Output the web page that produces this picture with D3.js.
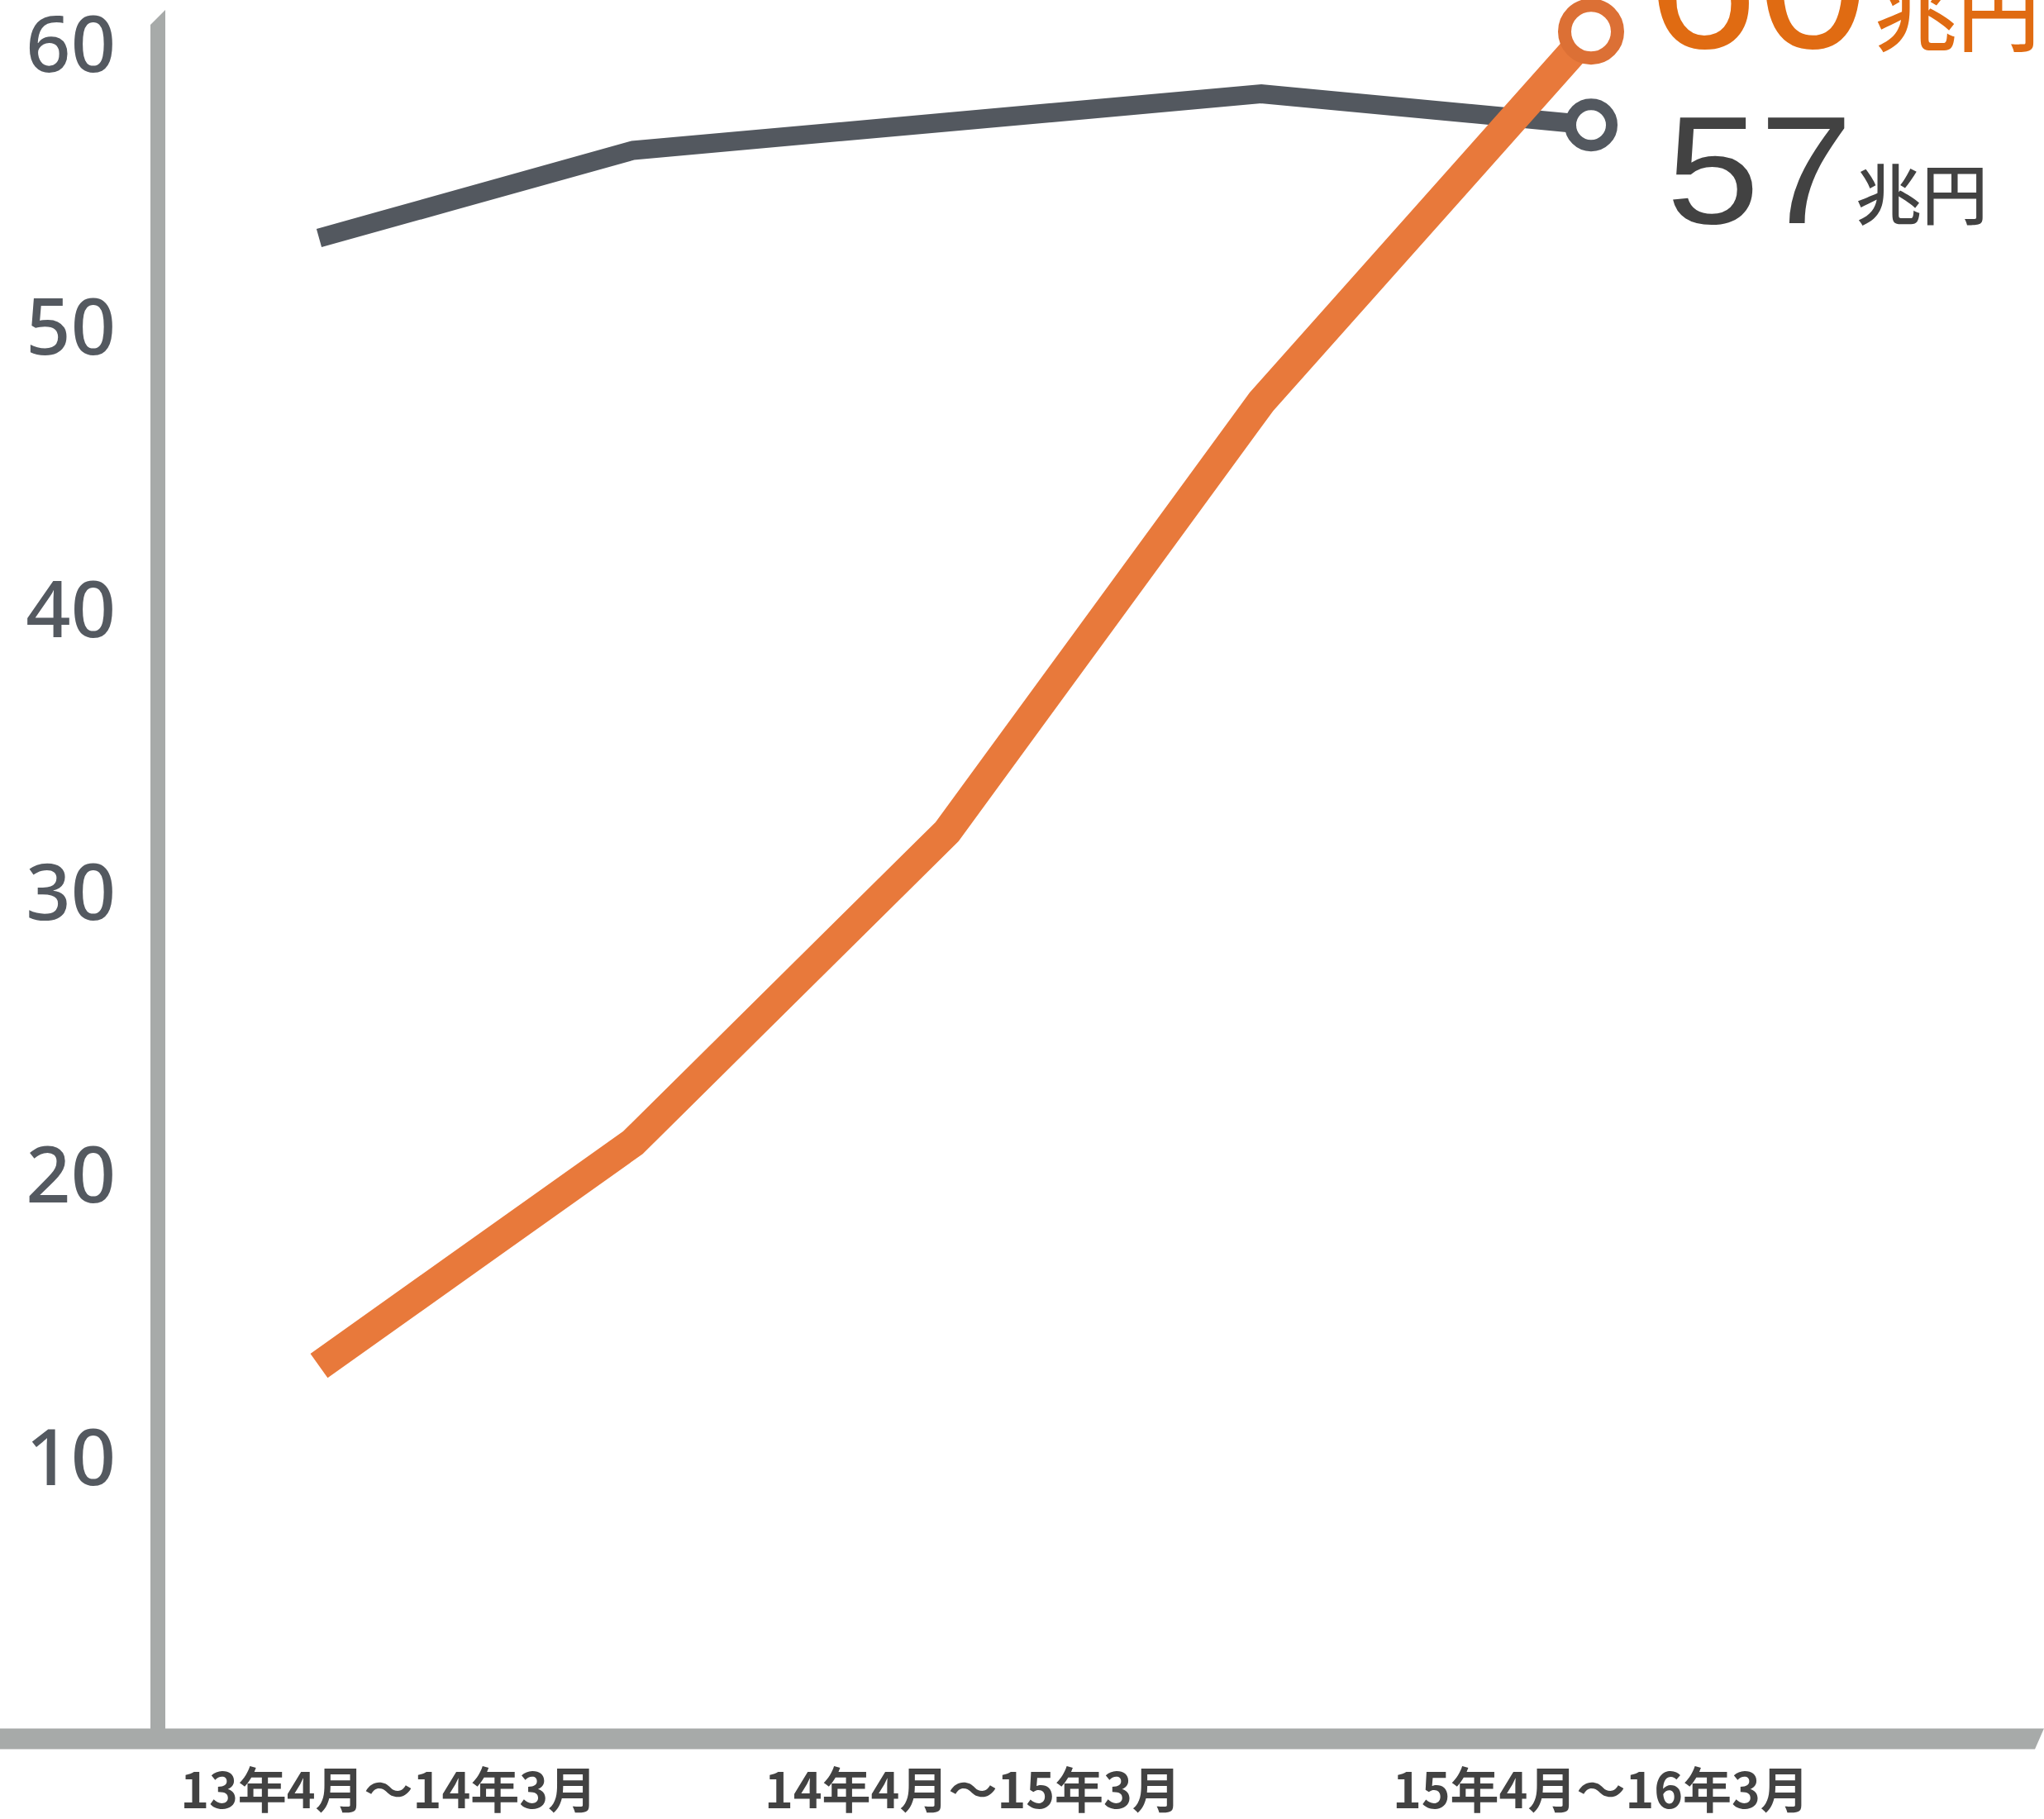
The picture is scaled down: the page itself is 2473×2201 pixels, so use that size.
<!DOCTYPE html>
<html>
<head>
<meta charset="utf-8">
<script src="https://cdn.jsdelivr.net/npm/d3@7"></script>
<style>
  html, body { margin: 0; padding: 0; background: #ffffff; }
  svg { display: block; }
</style>
</head>
<body>
<div id="chart"></div>
<script>
// ---------------- data ----------------
const pointIndex = [0, 1, 2, 3, 4.05];              // half-year periods (last point read slightly later)
const greySeries = [53.1, 56.2, 57.2, 58.2, 57.1];  // 兆円
const orangeSeries = [13.2, 21.1, 32.1, 47.3, 60.4]; // 兆円
const yTicks = [10, 20, 30, 40, 50, 60];
const xTickLabels = ["13年4月〜14年3月", "14年4月〜15年3月", "15年4月〜16年3月"];
const xTickAt = [0.22, 2.08, 4.08];
const greyEndLabel = "57";
const orangeEndLabel = "60";
const unitLabel = "兆円";

// ---------------- layout ----------------
const W = 2473, H = 2201;
const svg = d3.select("#chart").append("svg")
  .attr("width", W).attr("height", H)
  .attr("viewBox", `0 0 ${W} ${H}`);

const x = d3.scaleLinear().domain([0, 3]).range([386, 1526]);
const y = d3.scaleLinear().domain([0, 60]).range([2104, 52]);

const axisColor = "#a7aaa9";
const greyColor = "#53585f";
const orangeLine = "#e8793b";
const orangeCircle = "#dc7035";
const orangeText = "#e06b12";
const darkText = "#424242";
const tickText = "#545960";

// y axis vertical bar (slanted top)
const yx0 = 182, yx1 = 200, y0 = y(0);
svg.append("path")
  .attr("d", `M${yx0},30 L${yx1},12 L${yx1},${y0} L${yx0},${y0} Z`)
  .attr("fill", axisColor);

// x axis band (slanted right end)
const bandHalf = 12.5;
svg.append("path")
  .attr("d", `M0,${y0 - bandHalf} L2473,${y0 - bandHalf} L2462,${y0 + bandHalf} L0,${y0 + bandHalf} Z`)
  .attr("fill", axisColor);

// y tick labels
const yAxis = d3.axisLeft(y).tickValues(yTicks).tickSize(0).tickPadding(0).tickFormat(d3.format("d"));
const gy = svg.append("g").attr("transform", "translate(140,0)").call(yAxis);
gy.select(".domain").remove();
gy.selectAll("text")
  .attr("font-family", "'Noto Sans', Lato, sans-serif")
  .attr("font-weight", 500)
  .attr("font-size", 95)
  .attr("fill", tickText)
  .attr("text-anchor", "end")
  .attr("dy", "0.36em");

// x tick labels
const xAxis = d3.axisBottom(x).tickValues(xTickAt).tickSize(0).tickPadding(0)
  .tickFormat((d, i) => xTickLabels[i]);
const gx = svg.append("g").attr("transform", "translate(0,2188)").call(xAxis);
gx.select(".domain").remove();
gx.selectAll("text")
  .attr("font-family", "'Noto Sans CJK JP', sans-serif")
  .attr("font-weight", 700)
  .attr("font-size", 59)
  .attr("fill", darkText)
  .attr("dy", 0)
  .attr("y", 0);

// lines
const line = d3.line().x(d => x(d[0])).y(d => y(d[1]));
const greyData = pointIndex.map((p, i) => [p, greySeries[i]]);
const orangeData = pointIndex.map((p, i) => [p, orangeSeries[i]]);

svg.append("path").datum(greyData)
  .attr("d", line).attr("fill", "none")
  .attr("stroke", greyColor).attr("stroke-width", 23)
  .attr("stroke-linejoin", "miter").attr("stroke-linecap", "butt");

const gLast = greyData[greyData.length - 1];
svg.append("circle")
  .attr("cx", x(gLast[0])).attr("cy", y(gLast[1])).attr("r", 25)
  .attr("fill", "#fff").attr("stroke", greyColor).attr("stroke-width", 14);

svg.append("path").datum(orangeData)
  .attr("d", line).attr("fill", "none")
  .attr("stroke", orangeLine).attr("stroke-width", 36)
  .attr("stroke-linejoin", "miter").attr("stroke-linecap", "butt");

const oLast = orangeData[orangeData.length - 1];
svg.append("circle")
  .attr("cx", x(oLast[0])).attr("cy", y(oLast[1])).attr("r", 32)
  .attr("fill", "#fff").attr("stroke", orangeCircle).attr("stroke-width", 16);

// end labels
const numFont = "'Liberation Sans', Arial, sans-serif";
const cjkFont = "'Noto Sans CJK JP', sans-serif";

const gBase = y(gLast[1]) + 119;
svg.append("text")
  .attr("transform", `translate(2016,${gBase}) scale(1.09,1)`)
  .attr("font-family", numFont).attr("font-size", 186)
  .attr("fill", darkText).text(greyEndLabel);
svg.append("text")
  .attr("x", 2245).attr("y", gBase - 5)
  .attr("font-family", cjkFont).attr("font-weight", 500)
  .attr("font-size", 80).attr("fill", darkText).text(unitLabel);

const ol = svg.append("text")
  .attr("x", 1993).attr("y", y(oLast[1]) + 20)
  .attr("fill", orangeText);
ol.append("tspan").attr("font-family", numFont).attr("font-size", 240).text(orangeEndLabel);
ol.append("tspan").attr("font-family", cjkFont).attr("font-weight", 500)
  .attr("font-size", 100).attr("dx", 8).attr("dy", -4).text(unitLabel);
</script>
</body>
</html>
